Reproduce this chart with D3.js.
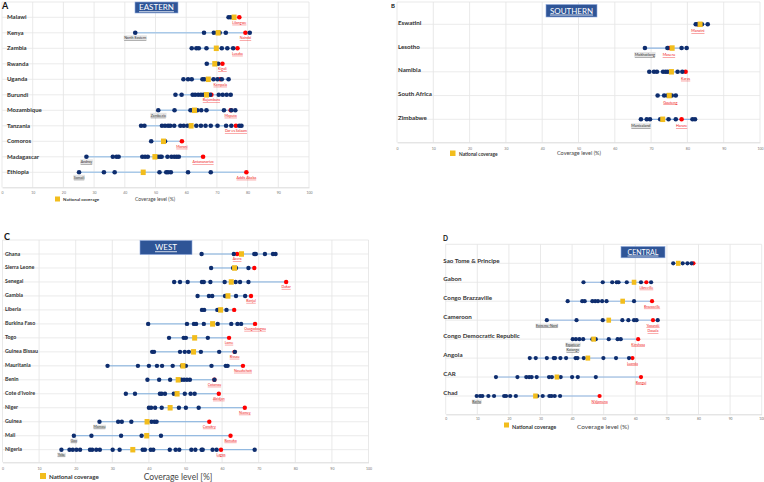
<!DOCTYPE html>
<html><head><meta charset="utf-8">
<script src="https://cdn.jsdelivr.net/npm/d3@7"></script>
<style>body{margin:0;background:#fff}svg{display:block}text{font-family:Lato,"Open Sans",sans-serif}</style>
</head><body><svg id="c" width="764" height="482"></svg>
<script>
// ---------- DATA ----------
const ticks = [0,10,20,30,40,50,60,70,80,90,100];

const eastCountries = ["Malawi","Kenya","Zambia","Rwanda","Uganda","Burundi","Mozambique","Tanzania","Comoros","Madagascar","Ethiopia"];
const eastRegions = [
  [73.8,74.5],
  [43.4,65.8,69,70.1,70.9,72.9,80.7],
  [61.8,63.3,64.1,66.6,71.6,73.4,75.3],
  [66.7,70.4],
  [59.1,60.6,61.8,65.3,65.9,68.9,70.2,71.6,73.8],
  [56.5,58.5,62.1,62.9,63.9,64.8,65.6,67.8,70.6,71.9,73.2,74.5],
  [50.9,56.2,61.4,62.1,63.6,64.9,66.6,72.3,74.7,76],
  [45.3,46.4,52.1,53.1,54.1,54.8,56.1,58.1,59.2,60.4,63.3,64.8,66.3,68,70.2,73,74.7,77.3,78],
  [48.6,53.1],
  [27.5,36.1,37.3,38,45.7,46.6,47.5,50.8,51.5,52,53.9,55.2,56.1,56.9,57.6],
  [25.1,33.2,36.7,51.3,53.5,54.1,55,60.6,68]
];
const eastNational = [75.6,70.4,69.8,69.3,67.2,66.6,62.7,61.6,52.6,49.8,46];
const eastCapital = [77.3,79.3,76.7,71.8,71.1,68.2,74.5,76.2,58.6,65.5,79.6];
const eastCapitalLabel = ["Lilongwe","Nairobi","Lusaka","Kigali","Kampala","Bujumbura","Maputo","Dar es Salaam","Moroni","Antananarivo","Addis Ababa"];
const eastLowLabel = ["","North Eastern","","","","","Zambezia","","","Androy","Somali"];

const southCountries = ["Eswatini","Lesotho","Namibia","South  Africa","Zimbabwe"];
const southRegions = [
  [82.3,82.8,84,85.6],
  [68.3,74.5,78.4,79.8],
  [69.5,70.8,71.6,73.3,74,74.6,77.3,78.6],
  [71.8,73.6,74.5,75.7,76.8],
  [67.2,68.8,69.7,72.5,74.8,76.8,81.4,82.1]
];
const southNational = [83.5,75.8,75.6,75,73.2];
const southCapital = [82.9,74.9,79.5,75.3,78.4];
const southCapitalLabel = ["Manzini","Maseru","Karas","Gauteng","Harare"];
const southLowLabel = ["","Mokhotlong","","","Manicaland"];

const westCountries = ["Ghana","Sierra Leone","Senegal","Gambia","Liberia","Burkina Faso","Togo","Guinea Bissau","Mauritania","Benin","Cote d'Ivoire","Niger","Guinea","Mali","Nigeria"];
const westRegions = [
  [54.4,63.2,68.8,69.2,71.7,73.9,74.6],
  [57,63,63.8,67.2],
  [46.9,48.5,50.6,54.5,55,56.8,60.7,63.7,64.9,67.2],
  [53.3,56.4,57.3,60.8,63.8,66.3],
  [54.5,55.1,58.7,61.2],
  [39.8,50.4,52.3,52.9,55,58.8,62.5,64.2,65.2],
  [45.5,49.5,50.1,56.1],
  [40.9,41.4,48.5,49.8,50.9,54.2,59.2,63.5],
  [28.7,37,40,42.2,43.6,46.5,49,50.1,57.1,61,61.5],
  [39.6,42.8,45.8,48.9,49.6,50.4,51.2,57.9],
  [33.7,36.2,43,43.5,44.4,46.8,49.8,51.4,52.5],
  [40,40.6,41.7,43.5,48.2,50.1,53.6],
  [26.5,31.6,32.6,35.2,40.7,41.5,42.1],
  [19.5,24.3,32.4,38,43.3],
  [16.1,18.3,19.2,20.2,21.2,23.9,24.5,25.6,26.6,30.1,32,38.3,38.9,40.5,41.2,45.7,47.3,48.3,51.6,52.7,54.4,54.7,57.4,58.5,68.9]
];
const westNational = [65.3,63.4,62.5,61.6,59.6,57.4,52.5,52.2,49.3,48,47.7,45.8,39.5,39.4,35.6];
const westCapital = [64.1,68.8,77.5,67.9,63.3,69,61.9,63.4,65.7,57.9,59.1,66.2,56.5,62.3,59.7];
const westCapitalLabel = ["Accra","","Dakar","Banjul","","Ouagadougou","Lome","Bissau","Nouakchott","Cotonou","Abidjan","Niamey","Conakry","Bamako","Lagos"];
const westLowLabel = ["","","","","","","","","","","","","Mamou","Gao","Yobe"];

const centralCountries = ["Sao Tome & Principe","Gabon","Congo Brazzaville","Cameroon","Congo Democratic Republic","Angola","CAR","Chad"];
const centralRegions = [
  [72,75,76.5,77.8],
  [43.6,49.7,52.7,54.1,54.7,57.3,61.8,65],
  [38.6,43.2,44,46.4,47.3,48.2,49.5,50.9,59.6],
  [32,41.4,49.7,55.9,57.8,59.6,60.4,67.1],
  [40.2,41.2,42.3,43.5,46.4,47.5,51.6,54.4,55.4],
  [26.6,28.5,32,34.2,34.6,36.3,38.1,41.1,41.7,43.7,49.9,53.9,58],
  [15.9,22.7,25.5,26.4,27.2,28.8,32.7,33.6,36.4,40,41.8,47.5],
  [9.8,10.9,11.6,13.5,15.3,18.5,19.1,20.4,22.2,29,30.7,32.8,33.5,34.5,36.2]
];
const centralNational = [73.6,59.6,56,51.6,46.8,45,35.2,28.4];
const centralCapital = [78.4,63.5,65.3,65.6,60.9,59.1,61.8,48.7];
const centralCapitalLabel = ["","Libreville","Brazzaville","Yaoundé|Douala","Kinshasa","Luanda","Bangui","N'djamena"];
const centralLowLabel = ["","","","Extreme-Nord","Equateur|Katanga","","","Batha"];

// ---------- LAYOUT ----------
const panels = [
  {letter:"A", title:"EASTERN", countries:eastCountries, regions:eastRegions, national:eastNational, capital:eastCapital, capLab:eastCapitalLabel, lowLab:eastLowLabel,
   x0:2, x1:309, top:2, bottom:187.3, r0:17.3, r1:172.3, labelX:7, cFont:6, cDy:2, r:2.3, sq:5, lw:1.4, lineCol:"#a9c9e8", labFont:3.6, labDy:6.5,
   letterPos:[2,9], letterFont:9, box:[135,2,43,11], boxFont:8, tickY:192.5, tickFont:3.5,
   axTitle:"Coverage level (%)", axPos:[155,200.5], axFont:5, legSq:[55,196.5,5], legText:[63,200.5], legFont:4.5},
  {letter:"B", title:"SOUTHERN", countries:southCountries, regions:southRegions, national:southNational, capital:southCapital, capLab:southCapitalLabel, lowLab:southLowLabel,
   x0:397, x1:760, top:2, bottom:142.3, r0:24.3, r1:119.3, labelX:398, cFont:6.2, cDy:0.5, r:2.3, sq:5, lw:1.2, lineCol:"#8db4e2", labFont:3.8, labDy:8,
   letterPos:[391,8], letterFont:6, box:[546,4.5,51,12.5], boxFont:8, tickY:148.5, tickFont:3.5,
   axTitle:"Coverage level (%)", axPos:[579,155], axFont:5.5, legSq:[450,150.5,5.5], legText:[459,155.5], legFont:4.8},
  {letter:"C", title:"WEST", countries:westCountries, regions:westRegions, national:westNational, capital:westCapital, capLab:westCapitalLabel, lowLab:westLowLabel,
   x0:2.5, x1:368.5, top:240, bottom:462.3, r0:254, r1:449.7, labelX:5, cFont:5.3, cDy:1.5, r:2.2, sq:5, lw:0.9, lineCol:"#6fa5da", labFont:3.5, labDy:6,
   letterPos:[4,240], letterFont:9, box:[140,240.5,52,14], boxFont:8, tickY:469, tickFont:3.5,
   axTitle:"Coverage level [%]", axPos:[178,480], axFont:8.5, legSq:[40,473,6], legText:[49,479], legFont:6.2},
  {letter:"D", title:"CENTRAL", countries:centralCountries, regions:centralRegions, national:centralNational, capital:centralCapital, capLab:centralCapitalLabel, lowLab:centralLowLabel,
   x0:445.7, x1:761.7, top:244.3, bottom:414.3, r0:263.3, r1:396, labelX:443.3, cFont:6.2, cDy:-0.8, r:2.1, sq:4.6, lw:1, lineCol:"#8db4e2", labFont:3.5, labDy:6.5,
   letterPos:[443,241], letterFont:6.5, box:[621,246.5,44,11.3], boxFont:7, tickY:419.5, tickFont:3.3,
   axTitle:"Coverage level (%)", axPos:[603,429], axFont:6.5, legSq:[504,422.5,5], legText:[512,429], legFont:5.5}
];

const svg = d3.select("#c");

panels.forEach(p => {
  const g = svg.append("g");
  const x = d3.scaleLinear().domain([0,100]).range([p.x0,p.x1]);
  const y = d3.scalePoint().domain(p.countries).range([p.r0,p.r1]);

  // vertical grid
  g.selectAll(".vg").data(ticks).join("line")
    .attr("x1",d=>x(d)).attr("x2",d=>x(d)).attr("y1",p.top).attr("y2",p.bottom)
    .attr("stroke","#e3e3e3").attr("stroke-width",0.8);
  // horizontal grid: top + rows
  g.append("line").attr("x1",p.x0).attr("x2",p.x1).attr("y1",p.top).attr("y2",p.top).attr("stroke","#e3e3e3").attr("stroke-width",0.8);
  g.selectAll(".hg").data(p.countries).join("line")
    .attr("x1",p.x0).attr("x2",p.x1).attr("y1",d=>y(d)).attr("y2",d=>y(d))
    .attr("stroke","#e6e6e6").attr("stroke-width",0.8);

  // axis
  const ax = g.append("g").attr("transform",`translate(0,${p.bottom})`)
    .call(d3.axisBottom(x).tickValues(ticks).tickSize(0).tickPadding(0).tickFormat(d3.format("d")));
  ax.select(".domain").attr("stroke","#d0d0d0").attr("stroke-width",0.8);
  ax.selectAll("text").attr("font-size",p.tickFont).attr("fill","#777").attr("y",p.tickY-p.bottom).attr("dy","0.3em");

  // country labels
  g.selectAll(".cl").data(p.countries).join("text")
    .attr("x",p.labelX).attr("y",d=>y(d)+p.cDy)
    .attr("font-size",p.cFont).attr("font-weight","bold").attr("fill","#333").text(d=>d);

  // range lines
  p.countries.forEach((c,i) => {
    const vals = p.regions[i].concat([p.national[i]], p.capital[i]!=null?[p.capital[i]]:[]);
    g.append("line").attr("x1",x(d3.min(vals))).attr("x2",x(d3.max(vals)))
      .attr("y1",y(c)).attr("y2",y(c)).attr("stroke",p.lineCol).attr("stroke-width",p.lw);
  });
  // capital (red)
  g.selectAll(".cap").data(p.countries.map((c,i)=>({c,v:p.capital[i]})).filter(d=>d.v!=null)).join("circle")
    .attr("cx",d=>x(d.v)).attr("cy",d=>y(d.c)).attr("r",p.r).attr("fill","#ff0000");
  // regions (navy)
  p.countries.forEach((c,i) => {
    g.selectAll(null).data(p.regions[i]).join("circle")
      .attr("cx",d=>x(d)).attr("cy",y(c)).attr("r",p.r).attr("fill","#0e2d6e");
  });
  // national (yellow square)
  g.selectAll(".nat").data(p.countries.map((c,i)=>({c,v:p.national[i]}))).join("rect")
    .attr("x",d=>x(d.v)-p.sq/2).attr("y",d=>y(d.c)-p.sq*0.55).attr("width",p.sq).attr("height",p.sq*1.1)
    .attr("fill","#f2bd1d");

  // capital labels
  p.countries.forEach((c,i) => {
    if (!p.capLab[i]) return;
    const xv = p.capital[i]!=null ? p.capital[i] : d3.max(p.regions[i]);
    p.capLab[i].split("|").forEach((t,k) => {
      g.append("text").attr("x",x(xv)).attr("y",y(c)+p.labDy+k*p.labFont*1.6)
        .attr("text-anchor","middle").attr("font-size",p.labFont).attr("fill","#f01818")
        .attr("text-decoration","underline").text(t);
    });
  });
  // lowest-region labels
  p.countries.forEach((c,i) => {
    if (!p.lowLab[i]) return;
    const xv = d3.min(p.regions[i]);
    p.lowLab[i].split("|").forEach((t,k) => {
      const tx = g.append("text").attr("x",x(xv)).attr("y",y(c)+p.labDy+k*p.labFont*1.6)
        .attr("text-anchor","middle").attr("font-size",p.labFont).attr("fill","#333")
        .attr("text-decoration","underline").text(t);
      const bb = tx.node().getBBox();
      g.insert("rect",() => tx.node()).attr("x",bb.x-0.5).attr("y",bb.y).attr("width",bb.width+1).attr("height",bb.height)
        .attr("fill","#e4e4e4");
    });
  });

  // panel letter
  g.append("text").attr("x",p.letterPos[0]).attr("y",p.letterPos[1]).attr("font-size",p.letterFont)
    .attr("font-weight","bold").attr("fill","#111").text(p.letter);
  // region box
  g.append("rect").attr("x",p.box[0]).attr("y",p.box[1]).attr("width",p.box[2]).attr("height",p.box[3])
    .attr("fill","#2f5597").attr("stroke","#8faadc").attr("stroke-width",0.6);
  g.append("text").attr("x",p.box[0]+p.box[2]/2).attr("y",p.box[1]+p.box[3]/2).attr("dy","0.36em")
    .attr("text-anchor","middle").attr("font-size",p.boxFont).attr("fill","#fff")
    .attr("text-decoration","underline").attr("font-family","Liberation Sans, Arial, sans-serif").text(p.title);

  // axis title
  g.append("text").attr("x",p.axPos[0]).attr("y",p.axPos[1]).attr("text-anchor","middle")
    .attr("font-size",p.axFont).attr("fill","#444").text(p.axTitle);
  // legend
  g.append("rect").attr("x",p.legSq[0]).attr("y",p.legSq[1]).attr("width",p.legSq[2]).attr("height",p.legSq[2]).attr("fill","#f2bd1d");
  g.append("text").attr("x",p.legText[0]).attr("y",p.legText[1]).attr("font-size",p.legFont)
    .attr("font-weight","bold").attr("fill","#333").text(p.letter==="D"?"National  coverage":"National coverage");
});
</script></body></html>
